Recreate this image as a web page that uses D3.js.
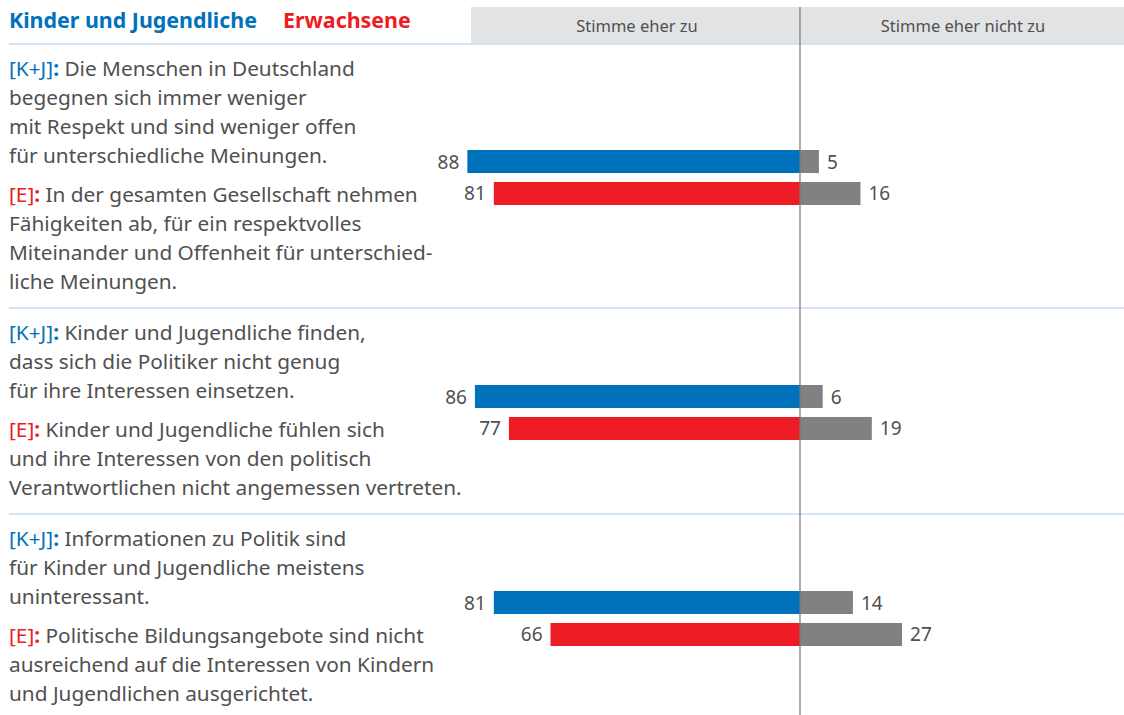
<!DOCTYPE html>
<html>
<head>
<meta charset="utf-8">
<script src="https://cdn.jsdelivr.net/npm/d3@7"></script>
<style>
  body { margin: 0; background: #fff; }
  svg { display: block; font-family: "Noto Sans", sans-serif; }
</style>
</head>
<body>
<div id="chart"></div>
<script>
var width = 1124;
var height = 715;

// data
var kjAgree = [88, 86, 81];
var kjDisagree = [5, 6, 14];
var eAgree = [81, 77, 66];
var eDisagree = [16, 19, 27];

var kjText = [
  ["Die Menschen in Deutschland", "begegnen sich immer weniger", "mit Respekt und sind weniger offen", "für unterschiedliche Meinungen."],
  ["Kinder und Jugendliche finden,", "dass sich die Politiker nicht genug", "für ihre Interessen einsetzen."],
  ["Informationen zu Politik sind", "für Kinder und Jugendliche meistens", "uninteressant."]
];
var eText = [
  ["In der gesamten Gesellschaft nehmen", "Fähigkeiten ab, für ein respektvolles", "Miteinander und Offenheit für unterschied-", "liche Meinungen."],
  ["Kinder und Jugendliche fühlen sich", "und ihre Interessen von den politisch", "Verantwortlichen nicht angemessen vertreten."],
  ["Politische Bildungsangebote sind nicht", "ausreichend auf die Interessen von Kindern", "und Jugendlichen ausgerichtet."]
];
var headers = ["Stimme eher zu", "Stimme eher nicht zu"];
var legend = ["Kinder und Jugendliche", "Erwachsene"];

var blue = "#0072bb", red = "#ed1c24", grey = "#818184", txt = "#505050";
var lineH = 29;

var svg = d3.select("#chart").append("svg")
  .attr("width", width)
  .attr("height", height);

var x = d3.scaleLinear().domain([-100, 100]).range([800 - 378, 800 + 378]);

// header band
svg.append("rect")
  .attr("x", 471).attr("y", 7)
  .attr("width", width - 471).attr("height", 37)
  .attr("fill", "#e2e3e5");

svg.selectAll(".hdr")
  .data(headers).enter()
  .append("text")
  .attr("x", function(d, i) { return i == 0 ? 637 : 963; })
  .attr("y", 32)
  .attr("text-anchor", "middle")
  .attr("font-size", 16.5)
  .attr("fill", txt)
  .text(function(d) { return d; });

// legend title
var lg = svg.append("text").attr("x", 9).attr("y", 28)
  .attr("font-size", 21.4).attr("font-weight", "bold");
lg.append("tspan").attr("fill", blue).text(legend[0]);
lg.append("tspan").attr("fill", red).attr("dx", 26).text(legend[1]);

// layout of groups from the number of text lines
var groups = [];
var yPos = 44;
kjText.forEach(function(lines, i) {
  var g = { i: i, top: yPos };
  g.kjBase = yPos + 32;
  g.eBase = g.kjBase + (lines.length - 1) * lineH + 39;
  g.bottom = g.eBase + (eText[i].length - 1) * lineH + 19;
  g.barTop = g.kjBase + (lines.length - 1) * lineH - 13;
  groups.push(g);
  yPos = g.bottom;
});

var sub = d3.scaleBand().domain(["kj", "e"]).range([0, 55]).paddingInner(0.28);

// separators
svg.selectAll(".sep")
  .data([44].concat(groups.slice(0, -1).map(function(g) { return g.bottom; })))
  .enter().append("line")
  .attr("x1", 9).attr("x2", width)
  .attr("y1", function(d) { return d; }).attr("y2", function(d) { return d; })
  .attr("stroke", "#c6dbf0").attr("stroke-width", 1.5);

function block(sel, lines, base, tag, col) {
  var t = sel.append("text").attr("font-size", 20.8).attr("fill", txt);
  lines.forEach(function(l, j) {
    var ts = t.append("tspan").attr("x", 9).attr("y", base + j * lineH);
    if (j == 0) {
      ts.append("tspan").attr("fill", col).text(tag);
      ts.append("tspan").attr("fill", col).attr("font-weight", "bold").text(":");
      ts.append("tspan").text(" " + l);
    } else {
      ts.text(l);
    }
  });
}

groups.forEach(function(g) {
  var gg = svg.append("g");
  block(gg, kjText[g.i], g.kjBase, "[K+J]", blue);
  block(gg, eText[g.i], g.eBase, "[E]", red);

  var rows = [
    { k: "kj", a: kjAgree[g.i], d: kjDisagree[g.i], c: blue },
    { k: "e", a: eAgree[g.i], d: eDisagree[g.i], c: red }
  ];
  rows.forEach(function(r) {
    var y = g.barTop + sub(r.k);
    var h = sub.bandwidth();
    gg.append("rect").attr("x", x(-r.a)).attr("y", y)
      .attr("width", x(0) - x(-r.a)).attr("height", h).attr("fill", r.c);
    gg.append("rect").attr("x", x(0)).attr("y", y)
      .attr("width", x(r.d) - x(0)).attr("height", h).attr("fill", grey);
    gg.append("text").attr("x", x(-r.a) - 8).attr("y", y + h / 2 + 7)
      .attr("text-anchor", "end").attr("font-size", 19).attr("fill", txt).text(r.a);
    gg.append("text").attr("x", x(r.d) + 8).attr("y", y + h / 2 + 7)
      .attr("font-size", 19).attr("fill", txt).text(r.d);
  });
});

// centre line
svg.append("line")
  .attr("x1", x(0)).attr("x2", x(0))
  .attr("y1", 7).attr("y2", height)
  .attr("stroke", "#777").attr("stroke-width", 1.2);
</script>
</body>
</html>
